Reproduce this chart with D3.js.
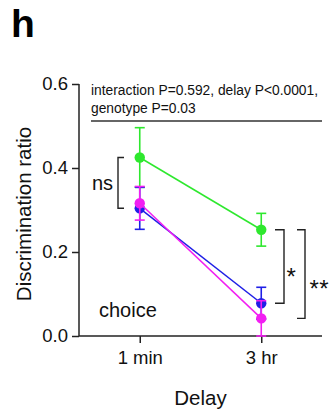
<!DOCTYPE html>
<html>
<head>
<meta charset="utf-8">
<script src="https://cdn.jsdelivr.net/npm/d3@7"></script>
<style>
  html, body { margin: 0; padding: 0; background: #fff; }
  svg { display: block; font-family: "Liberation Sans", Arial, sans-serif; }
</style>
</head>
<body>
<svg id="chart" width="332" height="416"></svg>
<script>
// Delay conditions on the x axis
const categories = ["1 min", "3 hr"];
// Y axis ticks
const yTicks = [0.0, 0.2, 0.4, 0.6];

// Group means and error (SEM) at each delay
const greenMean = [0.425, 0.253];
const greenErr = [0.071, 0.039];
const blueMean = [0.304, 0.078];
const blueErr = [0.050, 0.038];
const magentaMean = [0.316, 0.042];
const magentaErr = [0.040, 0.042];

const statsLines = ["interaction P=0.592, delay P<0.0001,", "genotype P=0.03"];

const series = [
  { color: "#2ee82e", mean: greenMean, err: greenErr },
  { color: "#1f1fe6", mean: blueMean, err: blueErr },
  { color: "#f21ef2", mean: magentaMean, err: magentaErr }
];

const svg = d3.select("#chart");
const plotLeft = 79, plotRight = 322, plotTop = 84, plotBottom = 336;
const axisColor = "#222";

const x = d3.scalePoint().domain(categories).range([plotLeft, plotRight]).padding(0.5);
const y = d3.scaleLinear().domain([0, 0.6]).range([plotBottom, plotTop]);

// Panel letter
svg.append("text").attr("x", 11).attr("y", 37)
  .attr("font-size", 39).attr("font-weight", "bold").attr("fill", "#000").text("h");

// Axes
const yAxis = svg.append("g").attr("transform", `translate(${plotLeft},0)`)
  .call(d3.axisLeft(y).tickValues(yTicks).tickFormat(d3.format(".1f")).tickSize(7).tickPadding(4));
const xAxis = svg.append("g").attr("transform", `translate(0,${plotBottom})`)
  .call(d3.axisBottom(x).tickSize(7).tickPadding(4).tickSizeOuter(0));
[yAxis, xAxis].forEach(g => {
  g.select(".domain").attr("stroke", axisColor).attr("stroke-width", 1.5);
  g.selectAll(".tick line").attr("stroke", axisColor).attr("stroke-width", 1.5);
  g.selectAll(".tick text").attr("fill", "#111").attr("font-size", 18.5)
    .attr("font-family", "Liberation Sans, Arial, sans-serif");
});
yAxis.select(".domain").attr("d", `M0,${plotTop}V${plotBottom}`);
xAxis.select(".domain").attr("d", `M${plotLeft},0H${plotRight}`);
xAxis.selectAll(".tick text").attr("dy", "0.9em");

// Axis titles
svg.append("text").attr("transform", `translate(31,214) rotate(-90)`)
  .attr("text-anchor", "middle").attr("font-size", 20.5).attr("fill", "#111")
  .text("Discrimination ratio");
svg.append("text").attr("x", (plotLeft + plotRight) / 2).attr("y", 405)
  .attr("text-anchor", "middle").attr("font-size", 20.5).attr("fill", "#111").text("Delay");

// Statistics note with rule beneath
statsLines.forEach((t, i) => {
  svg.append("text").attr("x", 91).attr("y", 95 + i * 17.5)
    .attr("font-size", 13.8).attr("fill", "#111").text(t);
});
svg.append("line").attr("x1", 91).attr("x2", plotRight).attr("y1", 121).attr("y2", 121)
  .attr("stroke", "#333").attr("stroke-width", 1.5);

// Series: connecting lines, error bars, points
const capHalf = 5;
series.forEach(s => {
  const pts = categories.map((c, i) => ({ c, m: s.mean[i], e: s.err[i] }));
  svg.append("path").datum(pts)
    .attr("fill", "none").attr("stroke", s.color).attr("stroke-width", 1.5)
    .attr("d", d3.line().x(d => x(d.c)).y(d => y(d.m)));
  const g = svg.append("g").attr("stroke", s.color).attr("stroke-width", 1.6);
  pts.forEach(d => {
    const cx = x(d.c);
    const yHi = y(d.m + d.e), yLo = y(Math.max(0, d.m - d.e));
    g.append("line").attr("x1", cx).attr("x2", cx).attr("y1", yHi).attr("y2", yLo);
    g.append("line").attr("x1", cx - capHalf).attr("x2", cx + capHalf).attr("y1", yHi).attr("y2", yHi);
    g.append("line").attr("x1", cx - capHalf).attr("x2", cx + capHalf).attr("y1", yLo).attr("y2", yLo);
  });
  svg.append("g").selectAll("circle").data(pts).join("circle")
    .attr("cx", d => x(d.c)).attr("cy", d => y(d.m)).attr("r", 5.2).attr("fill", s.color);
});

// Significance brackets
function bracket(xv, arm, v1, v2) {
  svg.append("path")
    .attr("d", `M${xv + arm},${y(v1)}H${xv}V${y(v2)}H${xv + arm}`)
    .attr("fill", "none").attr("stroke", "#222").attr("stroke-width", 1.4);
}
bracket(118, 6, greenMean[0], blueMean[0]);
svg.append("text").attr("x", 113).attr("y", 190).attr("text-anchor", "end")
  .attr("font-size", 20).attr("fill", "#111").text("ns");

bracket(284, -9, greenMean[1], blueMean[1]);
svg.append("text").attr("x", 286.5).attr("y", 285)
  .attr("font-size", 24).attr("fill", "#111").text("*");

bracket(305, -8, greenMean[1], magentaMean[1]);
svg.append("text").attr("x", 309.5).attr("y", 297)
  .attr("font-size", 24).attr("fill", "#111").attr("letter-spacing", 0.5).text("**");

// Task label
svg.append("text").attr("x", 99).attr("y", 317)
  .attr("font-size", 20).attr("fill", "#111").text("choice");
</script>
</body>
</html>
